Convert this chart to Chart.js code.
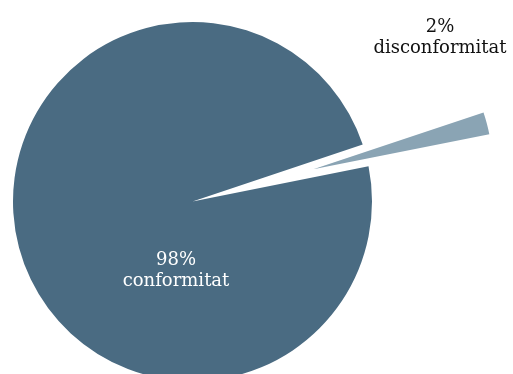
<!DOCTYPE html>
<html>
<head>
<meta charset="utf-8">
<script src="https://cdn.jsdelivr.net/npm/chart.js@4/dist/chart.umd.min.js"></script>
<style>
  html, body { margin: 0; padding: 0; background: #ffffff; }
  #wrap { width: 513px; height: 374px; }
</style>
</head>
<body>
<div id="wrap"><canvas id="c" width="513" height="374"></canvas></div>
<script>
// Share of checks: non-conforming vs conforming
const categories = ['disconformitat', 'conformitat'];
const shares = [2, 98];

// styling
const sliceColors = ['#8aa4b4', '#4a6b82'];
const labelColors = ['#111111', '#ffffff'];
const explodeDistance = [125, 0];          // px the slice is pulled out along its mid-angle
const labelAngles = [-33.69, 103.54];      // deg, clockwise from +x, around the pie centre
const labelDistances = [1.657, 0.3925];    // in pie radii

const explodeSlices = {
  id: 'explodeSlices',
  afterDatasetsUpdate(chart) {
    const arcs = chart.getDatasetMeta(0).data;
    chart.$pieCentre = { x: arcs[0].x, y: arcs[0].y, r: arcs[0].outerRadius };
    arcs.forEach((arc, i) => {
      const d = explodeDistance[i] || 0;
      if (!d) return;
      const mid = (arc.startAngle + arc.endAngle) / 2;
      arc.x += d * Math.cos(mid);
      arc.y += d * Math.sin(mid);
    });
  }
};

const sliceLabels = {
  id: 'sliceLabels',
  afterDatasetsDraw(chart) {
    const ctx = chart.ctx;
    const c = chart.$pieCentre;
    ctx.save();
    ctx.font = '18px "DejaVu Serif", serif';
    ctx.textAlign = 'center';
    ctx.textBaseline = 'alphabetic';
    shares.forEach((v, i) => {
      const a = labelAngles[i] * Math.PI / 180;
      const d = labelDistances[i] * c.r;
      const cx = c.x + d * Math.cos(a);
      const cy = c.y + d * Math.sin(a);
      ctx.fillStyle = labelColors[i];
      ctx.fillText(v + '%', cx, cy - 5);
      ctx.fillText(categories[i], cx, cy + 16);
    });
    ctx.restore();
  }
};

new Chart(document.getElementById('c'), {
  type: 'pie',
  data: {
    labels: categories,
    datasets: [{
      data: shares,
      backgroundColor: sliceColors,
      borderWidth: 0,
      hoverOffset: 0,
      clip: false
    }]
  },
  options: {
    responsive: false,
    animation: false,
    rotation: 71.5,
    radius: 179.5,
    layout: { padding: { left: 0, right: 128, top: 29, bottom: 0 } },
    plugins: {
      legend: { display: false },
      tooltip: { enabled: false }
    },
    events: []
  },
  plugins: [explodeSlices, sliceLabels]
});
</script>
</body>
</html>
